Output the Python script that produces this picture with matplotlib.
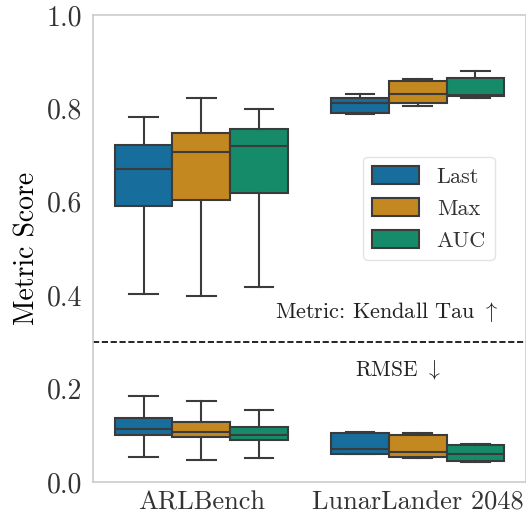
import matplotlib
matplotlib.use("Agg")
import matplotlib.pyplot as plt
import matplotlib.transforms as mtransforms
import seaborn as sns
from matplotlib.patches import Patch

plt.rcParams['font.family'] = ['cmr10', 'DejaVu Serif']
plt.rcParams['mathtext.fontset'] = 'cm'
plt.rcParams['axes.formatter.use_mathtext'] = True

benchmarks = ["ARLBench", "LunarLander 2048"]
methods = ["Last", "Max", "AUC"]

# Kendall Tau (upper part): per benchmark, per method: whislo, q1, med, q3, whishi
kt_whislo = [[0.403, 0.398, 0.418], [0.787, 0.805, 0.823]]
kt_q1     = [[0.591, 0.604, 0.619], [0.791, 0.811, 0.826]]
kt_med    = [[0.670, 0.707, 0.719], [0.812, 0.830, 0.829]]
kt_q3     = [[0.722, 0.747, 0.756], [0.822, 0.859, 0.866]]
kt_whishi = [[0.782, 0.822, 0.799], [0.830, 0.863, 0.880]]

# RMSE (lower part)
rm_whislo = [[0.054, 0.047, 0.051], [0.060, 0.052, 0.043]]
rm_q1     = [[0.101, 0.096, 0.090], [0.061, 0.054, 0.045]]
rm_med    = [[0.114, 0.108, 0.101], [0.071, 0.064, 0.060]]
rm_q3     = [[0.136, 0.129, 0.117], [0.104, 0.101, 0.079]]
rm_whishi = [[0.184, 0.174, 0.155], [0.106, 0.104, 0.082]]

yticks = [0.0, 0.2, 0.4, 0.6, 0.8, 1.0]

palette = [sns.desaturate(c, 0.75) for c in sns.color_palette("colorblind", 3)]
line_col = "#3b3b3b"

fig = plt.figure(figsize=(5.26, 5.17), dpi=100)
ax = fig.add_axes([93/526, 35/517, 433/526, 467/517])

width = 0.8 / 3
for stats in [(kt_whislo, kt_q1, kt_med, kt_q3, kt_whishi),
              (rm_whislo, rm_q1, rm_med, rm_q3, rm_whishi)]:
    wl, q1, md, q3, wh = stats
    for bi in range(len(benchmarks)):
        for mi in range(len(methods)):
            pos = bi - 0.4 + width * (mi + 0.5)
            s = dict(whislo=wl[bi][mi], q1=q1[bi][mi], med=md[bi][mi],
                     q3=q3[bi][mi], whishi=wh[bi][mi], fliers=[])
            ax.bxp([s], positions=[pos], widths=width, patch_artist=True,
                   showfliers=False, capwidths=width * 0.5,
                   boxprops=dict(facecolor=palette[mi], edgecolor=line_col, linewidth=1.5),
                   medianprops=dict(color=line_col, linewidth=1.5),
                   whiskerprops=dict(color=line_col, linewidth=1.5),
                   capprops=dict(color=line_col, linewidth=1.5),
                   manage_ticks=False)

ax.axhline(0.30, color="black", linestyle="--", linewidth=1.2)
blend = mtransforms.blended_transform_factory(ax.transAxes, ax.transData)
ax.text(0.678, 0.364, "Metric: Kendall Tau $\\uparrow$", transform=blend,
        ha="center", va="center", fontsize=16, color="#222222")
ax.text(0.705, 0.24, "RMSE $\\downarrow$", ha="center", va="center", fontsize=15.5,
        transform=blend, color="#222222")

ax.set_xlim(-0.5, 1.5)
ax.set_ylim(0, 1.0)
ax.set_xticks(range(len(benchmarks)))
ax.set_xticklabels(benchmarks, fontsize=19)
ax.set_yticks(yticks)
ax.set_yticklabels([f"{t:.1f}" for t in yticks], fontsize=20)
ax.set_ylabel("Metric Score", fontsize=20)
ax.tick_params(axis="y", length=0, pad=8, colors="#333333")
ax.tick_params(axis="x", length=0, pad=6, colors="#333333")
for sp in ax.spines.values():
    sp.set_color("#cccccc")
    sp.set_linewidth(1.2)

handles = [Patch(facecolor=palette[i], edgecolor=line_col, linewidth=1.5, label=m)
           for i, m in enumerate(methods)]
leg = ax.legend(handles=handles, loc="upper right", bbox_to_anchor=(0.928, 0.696),
                borderaxespad=0, fontsize=16, frameon=True, fancybox=True,
                edgecolor="#dddddd", handlelength=2.1, handleheight=0.9,
                handletextpad=0.8)
for t in leg.get_texts():
    t.set_color("#333333")

fig.savefig("out.png", dpi=100)
